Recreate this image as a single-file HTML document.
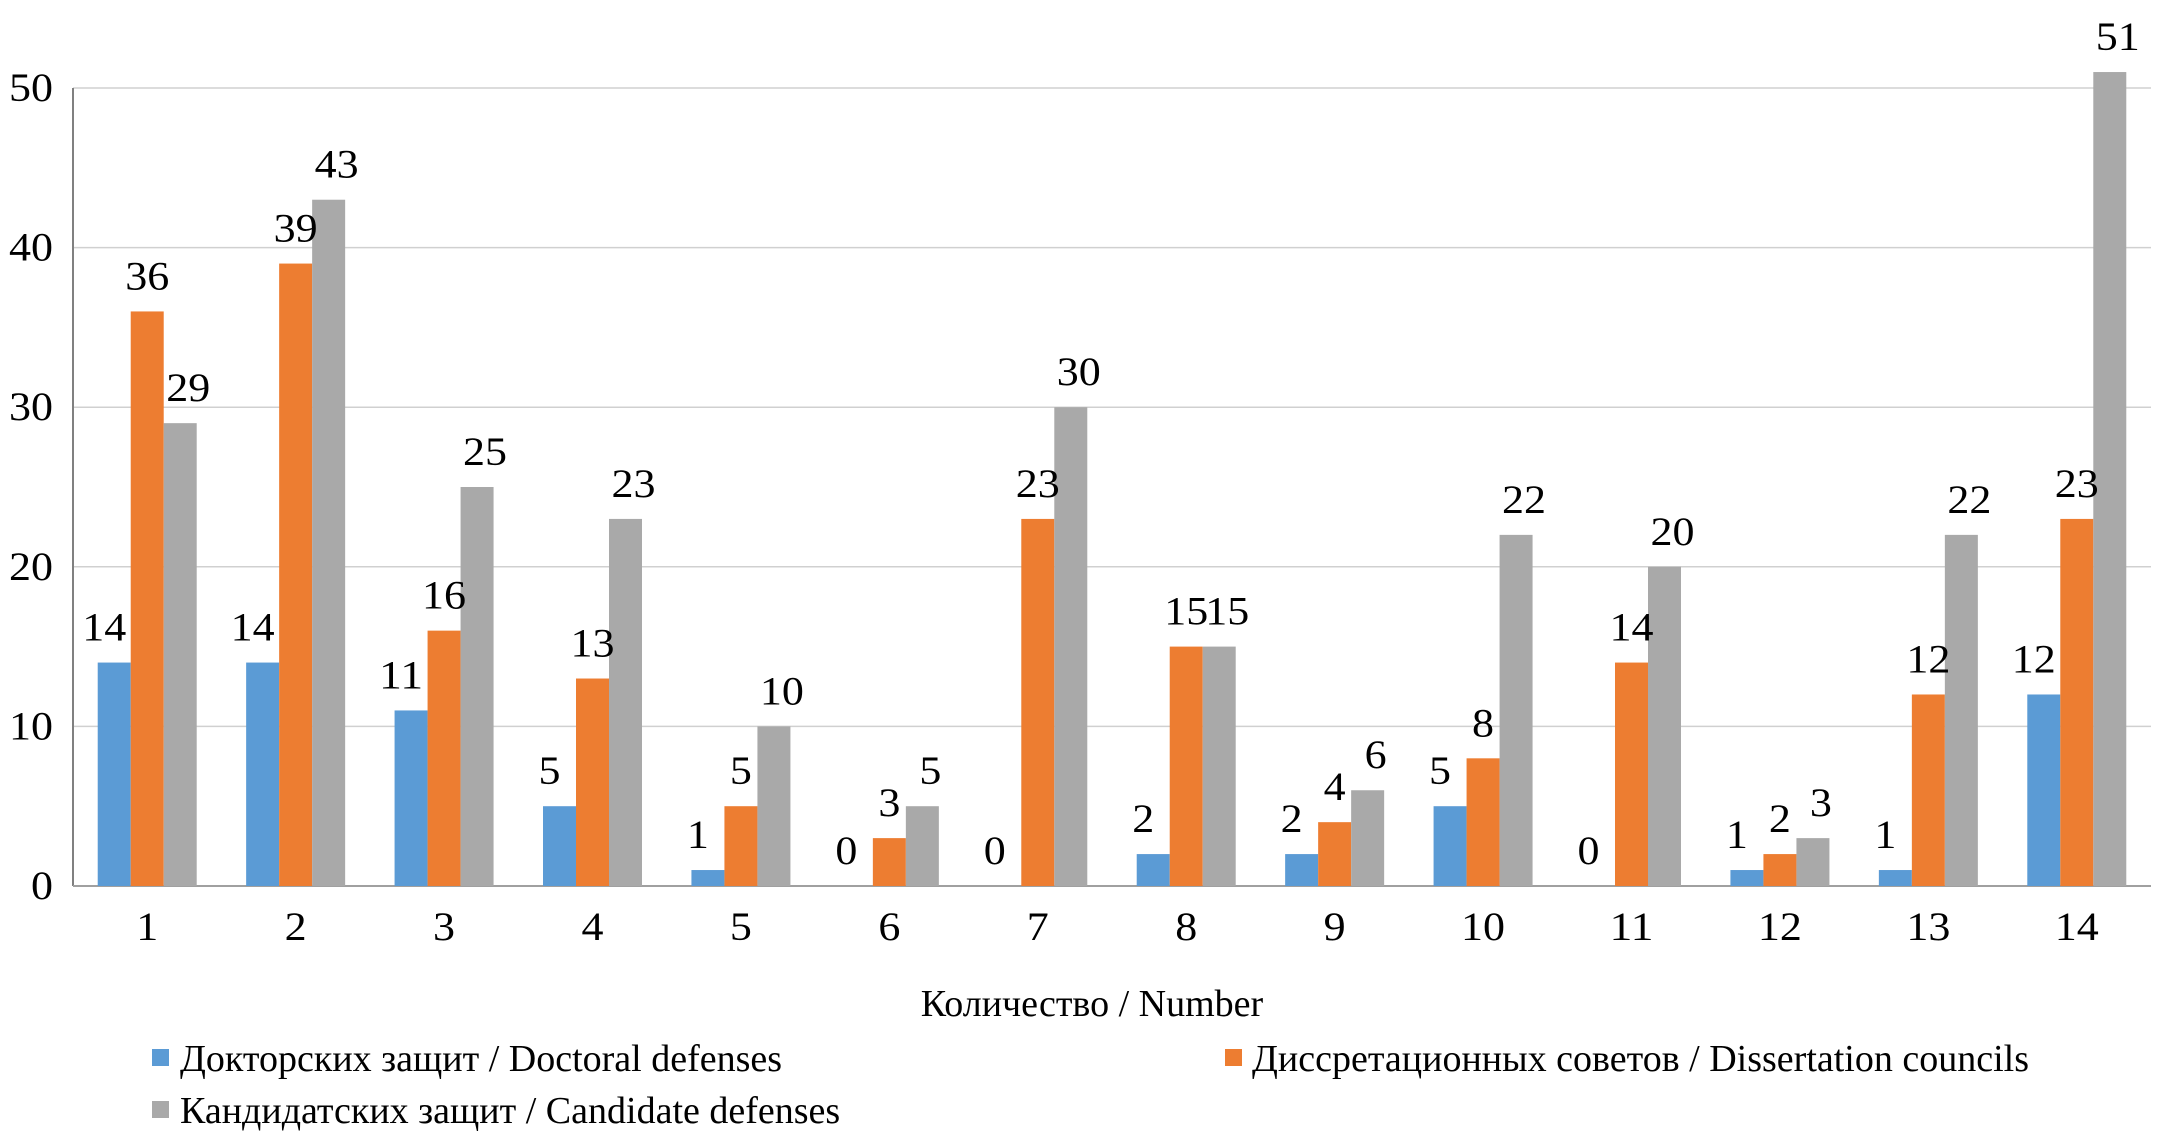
<!DOCTYPE html>
<html><head><meta charset="utf-8"><style>
body{margin:0;background:#fff}
svg text{font-family:"Liberation Serif",serif;fill:#000}
</style></head><body>
<svg id="c" width="2167" height="1133" xmlns="http://www.w3.org/2000/svg">
<g id="grid"></g><g id="bars"></g><g id="labels"></g>
<text x="1092" y="1016" font-size="38" text-anchor="middle">Количество / Number</text>
<g>
<rect x="152" y="1049" width="17" height="17" fill="#5b9bd5"/>
<text x="180" y="1071" font-size="38">Докторских защит / Doctoral defenses</text>
<rect x="1225" y="1049" width="17" height="17" fill="#ed7d31"/>
<text x="1252" y="1071" font-size="38">Диссретационных советов / Dissertation councils</text>
<rect x="152" y="1101" width="17" height="17" fill="#a9a9a9"/>
<text x="180" y="1123" font-size="38">Кандидатских защит / Candidate defenses</text>
</g>
</svg>
<script>
const categories=["1","2","3","4","5","6","7","8","9","10","11","12","13","14"];
const doctoral=[14,14,11,5,1,0,0,2,2,5,0,1,1,12];
const councils=[36,39,16,13,5,3,23,15,4,8,14,2,12,23];
const candidate=[29,43,25,23,10,5,30,15,6,22,20,3,22,51];
const yTicks=[0,10,20,30,40,50];
const seriesNames=["doctoral","councils","candidate"];
const colors=["#5b9bd5","#ed7d31","#a9a9a9"];
const labelShift=[-10,0,8];
const X0=73,X1=2151,Y0=886,Y50=88,YMAX=50;
const ns="http://www.w3.org/2000/svg";
const y=v=>Y0-(Y0-Y50)*v/YMAX;
const step=(X1-X0)/categories.length;
const cx=i=>X0+step*(i+0.5);
const BW=33;
function mk(t,a,p){const e=document.createElementNS(ns,t);for(const k in a)e.setAttribute(k,a[k]);p.appendChild(e);return e;}
function num(x,yy,s,anchor,p){const t=mk('text',{x:x,y:yy,'font-size':40,'text-anchor':anchor,textLength:String(s).length*22,lengthAdjust:'spacingAndGlyphs'},p);t.textContent=s;return t;}
const grid=document.getElementById('grid'),bars=document.getElementById('bars'),labels=document.getElementById('labels');
yTicks.forEach(v=>{
 if(v>0){const l=mk('line',{x1:X0,x2:X1,y1:y(v),y2:y(v),stroke:'#d0d0d0','stroke-width':1.5},grid);
 
 }
 const t=num(53,y(v)+13,v,'end',labels);
 
 
});
const ax=mk('line',{x1:X0,x2:X0,y1:Y50,y2:Y0,stroke:'#808080','stroke-width':2},grid);


const bx=mk('line',{x1:X0,x2:X1,y1:Y0,y2:Y0,stroke:'#a0a0a0','stroke-width':2},grid);


const data=[doctoral,councils,candidate];
categories.forEach((c,i)=>{
 const t=num(cx(i),940,c,'middle',labels);
 
 
 data.forEach((s,k)=>{
  const v=s[i];const x=cx(i)-1.5*BW+k*BW;
  const r=mk('rect',{x:x,y:y(v),width:BW,height:Y0-y(v),fill:colors[k]},bars);
  
  
  const lt=num(x+BW/2+labelShift[k],y(v)-22,v,'middle',labels);
  
  
 });
});
</script>
</body></html>
